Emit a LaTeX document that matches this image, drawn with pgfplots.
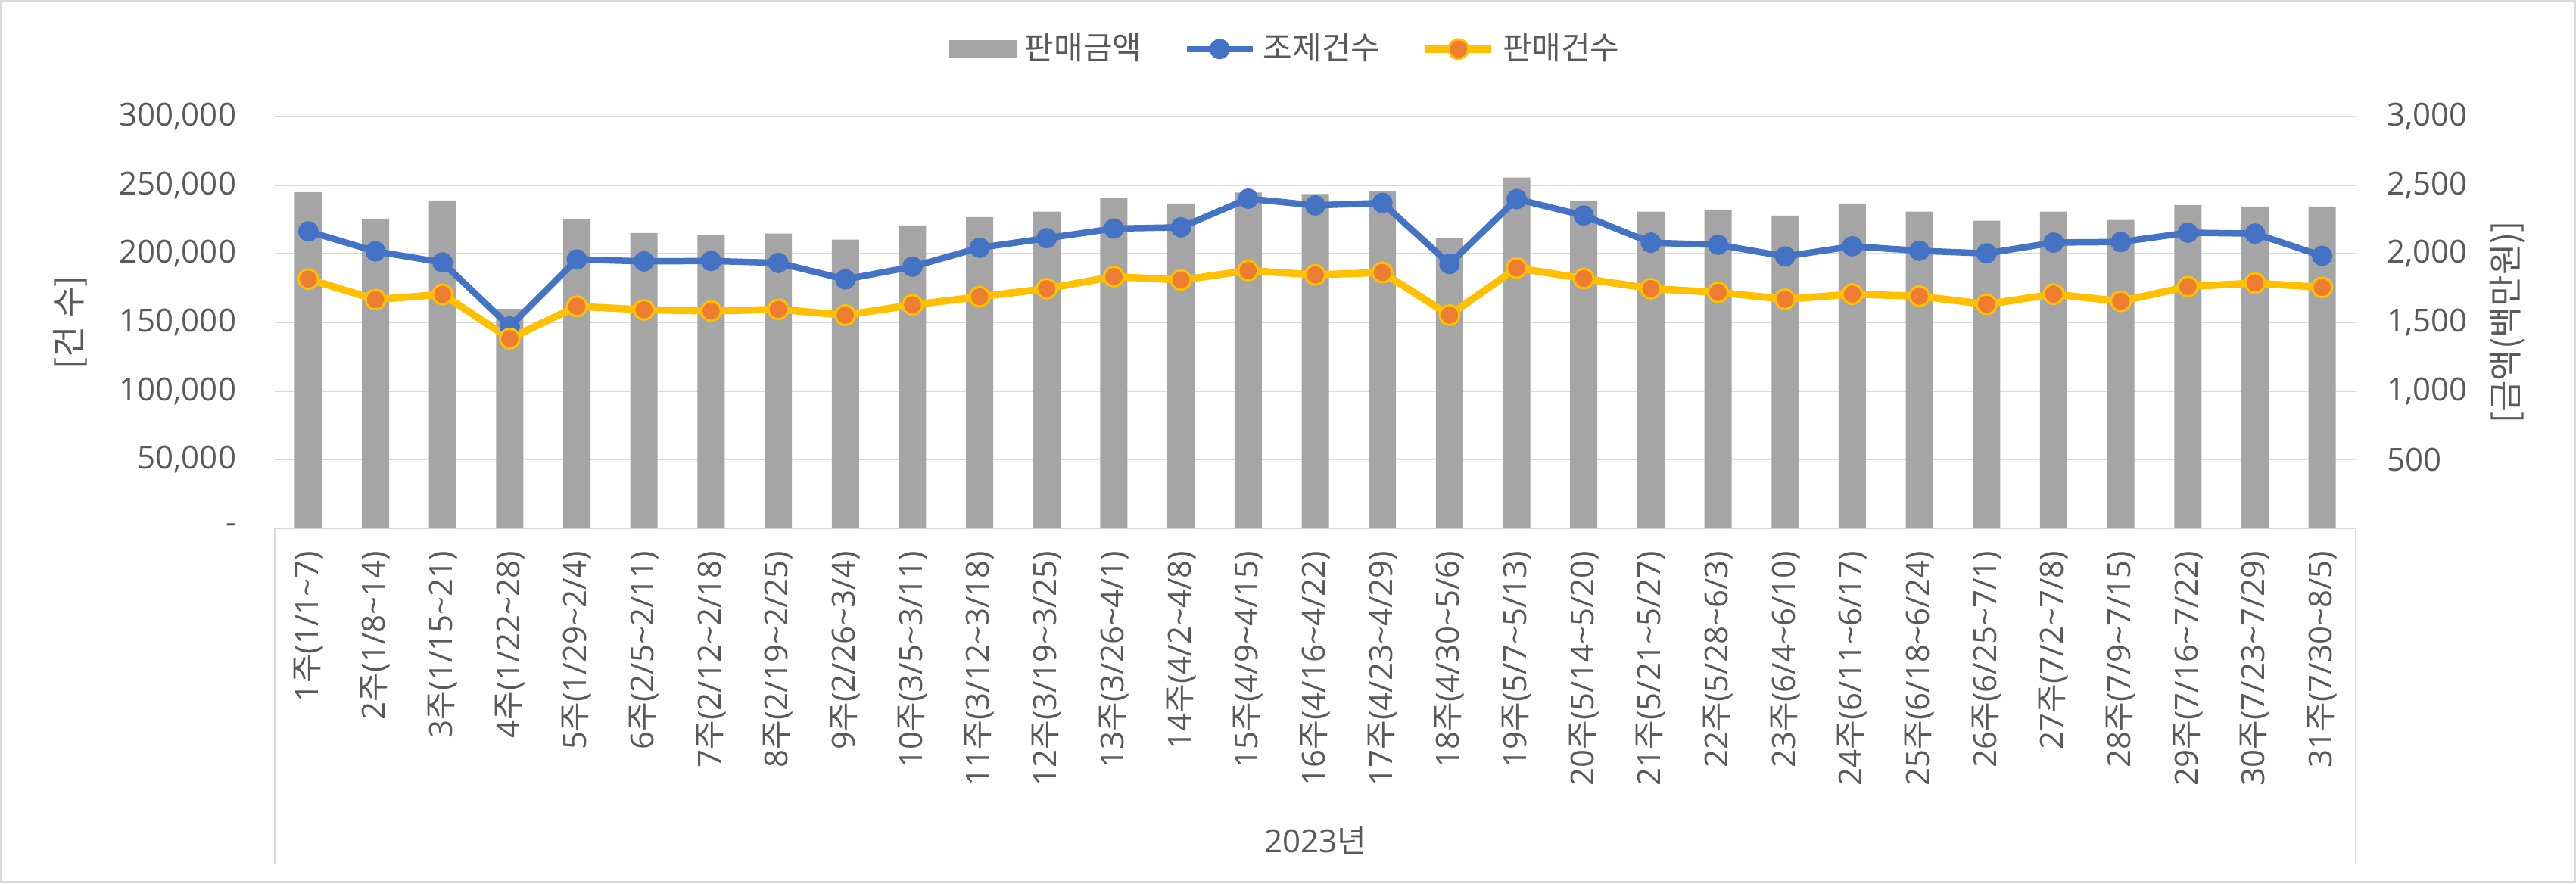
\documentclass[border=0pt]{standalone}
\usepackage{pgfplots}
\usepackage{pgfplotstable}
\pgfplotsset{compat=1.18}
\usepackage{fontspec}
\setmainfont{Open Sans}
\newfontfamily\kr{Noto Sans CJK KR}
\definecolor{txt}{HTML}{595959}
\definecolor{gridc}{HTML}{D9D9D9}
\definecolor{barc}{HTML}{A5A5A5}
\definecolor{bluec}{HTML}{4472C4}
\definecolor{yelc}{HTML}{FFC000}
\definecolor{orac}{HTML}{ED7D31}
\newcommand\ju{{\kr 주}}
\newcommand\tl{\textasciitilde}
\pgfplotsset{
  linelegend/.style={legend image code/.code={\draw[mark repeat=2,mark phase=2,##1] plot coordinates {(0pt,0pt) (8.7pt,0pt) (17.4pt,0pt)};}},
  barlegend/.style={legend image code/.code={\fill[barc] (0pt,-2.2pt) rectangle (17.6pt,2.2pt);}},
}

\pgfplotstableread{
x amt jo pan
0 2450 216300 181600
1 2257 201800 166700
2 2389 193700 170400
3 1599 147000 138200
4 2252 195900 161700
5 2152 194500 159200
6 2136 194800 158300
7 2147 193400 159500
8 2103 181400 155300
9 2207 190600 162800
10 2268 204400 168700
11 2307 211400 174600
12 2406 218400 183400
13 2367 219300 180900
14 2446 240200 187800
15 2435 235300 184700
16 2456 237100 186400
17 2114 192600 155300
18 2555 239900 189700
19 2389 227900 182000
20 2307 208100 174600
21 2323 206600 171900
22 2279 198100 166900
23 2367 205500 170600
24 2307 202200 169100
25 2241 200300 163200
26 2307 208200 170600
27 2246 208600 165400
28 2356 215400 176100
29 2345 214700 178700
30 2345 198500 175500
}\data

\begin{document}
\begin{tikzpicture}
\pgfplotsset{
  common/.style={
    scale only axis, width=549.8pt, height=108.8pt,
    at={(0pt,0pt)}, anchor=south west,
    xmin=-0.5, xmax=30.5,
    major tick length=0pt,
    ticklabel style={font=\fontsize{8.4}{10}\selectfont, text=txt},
    label style={font=\fontsize{9}{11}\selectfont, text=txt},
    scaled y ticks=false,
  }
}
% bars (right axis), grid and category axis
\begin{axis}[common,
  ymin=0, ymax=3000,
  axis x line*=bottom, axis y line*=right,
  axis line style={-},
  x axis line style={draw=gridc, line width=0.5pt},
  y axis line style={draw=none},
  ymajorgrids, grid style={draw=gridc, line width=0.45pt},
  ytick={500,1000,1500,2000,2500,3000},
  yticklabels={{500},{1,000},{1,500},{2,000},{2,500},{3,000}},
  yticklabel style={anchor=west, inner sep=0pt},
  yticklabel shift=8pt,
  xtick={0,...,30},
  xticklabels={
    {1\ju(1/1\tl 7)},{2\ju(1/8\tl 14)},{3\ju(1/15\tl 21)},{4\ju(1/22\tl 28)},
    {5\ju(1/29\tl 2/4)},{6\ju(2/5\tl 2/11)},{7\ju(2/12\tl 2/18)},{8\ju(2/19\tl 2/25)},
    {9\ju(2/26\tl 3/4)},{10\ju(3/5\tl 3/11)},{11\ju(3/12\tl 3/18)},{12\ju(3/19\tl 3/25)},
    {13\ju(3/26\tl 4/1)},{14\ju(4/2\tl 4/8)},{15\ju(4/9\tl 4/15)},{16\ju(4/16\tl 4/22)},
    {17\ju(4/23\tl 4/29)},{18\ju(4/30\tl 5/6)},{19\ju(5/7\tl 5/13)},{20\ju(5/14\tl 5/20)},
    {21\ju(5/21\tl 5/27)},{22\ju(5/28\tl 6/3)},{23\ju(6/4\tl 6/10)},{24\ju(6/11\tl 6/17)},
    {25\ju(6/18\tl 6/24)},{26\ju(6/25\tl 7/1)},{27\ju(7/2\tl 7/8)},{28\ju(7/9\tl 7/15)},
    {29\ju(7/16\tl 7/22)},{30\ju(7/23\tl 7/29)},{31\ju(7/30\tl 8/5)}},
  xticklabel style={rotate=90, anchor=east, inner sep=0pt},
  xticklabel shift=5.8pt,
  ylabel={\kr [금액(백만원)]},
  ylabel style={at={(axis description cs:1.0728,0.5)}, anchor=center, rotate=0},
  clip=false,
]
\addplot[ybar, bar width=7.2pt, fill=barc, draw=none] table[x=x, y=amt]{\data};
\draw[gridc, line width=0.5pt] (rel axis cs:0,0) -- ++(0pt,-88.8pt);
\draw[gridc, line width=0.5pt] (rel axis cs:1,0) -- ++(0pt,-88.8pt);
\node[font=\fontsize{8.4}{10}\selectfont, text=txt, anchor=center] at ([yshift=-82.4pt]rel axis cs:0.5,0) {2023{\kr 년}};
\end{axis}
% lines (left axis)
\begin{axis}[common,
  ymin=0, ymax=300000,
  hide x axis,
  axis y line*=left,
  y axis line style={draw=none},
  ytick={0,50000,100000,150000,200000,250000,300000},
  yticklabels={{-},{50,000},{100,000},{150,000},{200,000},{250,000},{300,000}},
  yticklabel style={anchor=east, inner sep=0pt},
  yticklabel shift=10pt,
  ylabel={\kr [건 수]},
  ylabel style={at={(axis description cs:-0.0982,0.5)}, anchor=center},
  legend columns=3,
  legend style={at={(0.487,1.164)}, anchor=center, draw=none, fill=none,
    font=\fontsize{8.4}{10}\selectfont, text=txt,
    /tikz/every even column/.append style={column sep=9pt},
    inner sep=0pt, row sep=0pt},
  legend cell align=left,
]
\addlegendimage{barlegend}
\addlegendentry{\kr 판매금액}
\addplot[bluec, line width=1.7pt, mark=*, mark size=2.5pt,
  mark options={fill=bluec, draw=bluec, line width=0.4pt}, linelegend]
  table[x=x, y=jo]{\data};
\addlegendentry{\kr 조제건수}
\addplot[yelc, line width=1.9pt, mark=*, mark size=2.6pt,
  mark options={fill=orac, draw=yelc, line width=0.6pt}, linelegend]
  table[x=x, y=pan]{\data};
\addlegendentry{\kr 판매건수}
\end{axis}
\draw[gridc, line width=0.6pt] (-72.3pt,-93.5pt) rectangle (607.7pt,139.3pt);
\pgfresetboundingbox
\path[use as bounding box] (-72.6pt,-93.8pt) rectangle (608pt,139.6pt);
\end{tikzpicture}
\end{document}
